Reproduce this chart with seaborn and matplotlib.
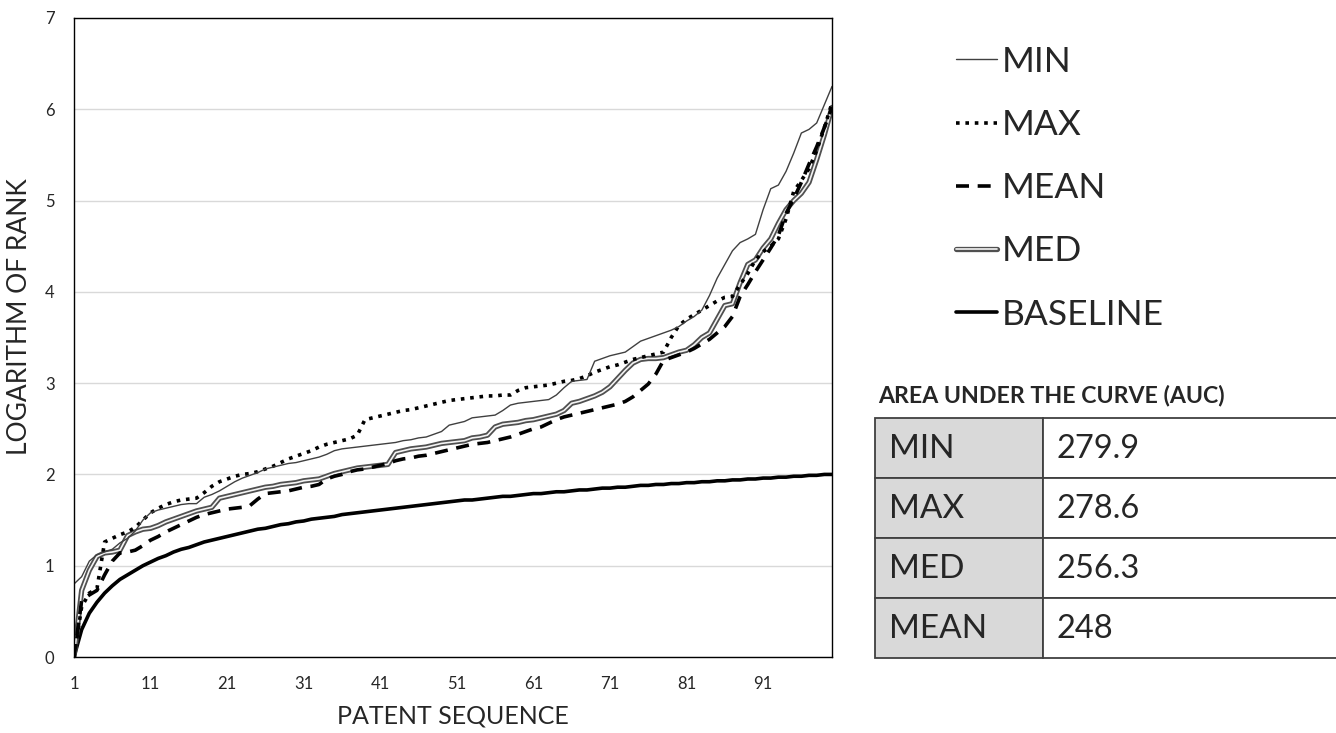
import numpy as np
import pandas as pd
import seaborn as sns
import matplotlib.pyplot as plt
import matplotlib.patheffects as pe
from matplotlib.patches import Rectangle

# Patent sequence 1..100
seq = list(range(1, 101))

# Logarithm of rank
min_vals = [0.80, 0.88, 1.05, 1.12, 1.15, 1.18, 1.25, 1.30, 1.38, 1.50,
            1.58, 1.61, 1.63, 1.65, 1.67, 1.68, 1.68, 1.75, 1.78, 1.82,
            1.87, 1.92, 1.96, 1.99, 2.02, 2.06, 2.08, 2.10, 2.12, 2.13,
            2.15, 2.17, 2.19, 2.22, 2.26, 2.28, 2.29, 2.30, 2.31, 2.32,
            2.33, 2.34, 2.35, 2.37, 2.38, 2.40, 2.41, 2.44, 2.47, 2.54,
            2.56, 2.58, 2.62, 2.63, 2.64, 2.65, 2.70, 2.76, 2.78, 2.79,
            2.80, 2.81, 2.82, 2.87, 2.95, 3.02, 3.03, 3.04, 3.24, 3.27,
            3.30, 3.32, 3.34, 3.40, 3.46, 3.49, 3.52, 3.55, 3.58, 3.62,
            3.68, 3.73, 3.80, 3.96, 4.15, 4.30, 4.45, 4.54, 4.58, 4.63,
            4.90, 5.13, 5.17, 5.32, 5.52, 5.74, 5.78, 5.85, 6.05, 6.25]

max_vals = [0.00, 0.55, 0.70, 0.75, 1.26, 1.30, 1.34, 1.37, 1.42, 1.50,
            1.58, 1.63, 1.67, 1.70, 1.72, 1.73, 1.74, 1.80, 1.87, 1.92,
            1.95, 1.98, 2.00, 2.01, 2.03, 2.06, 2.09, 2.13, 2.17, 2.20,
            2.23, 2.26, 2.30, 2.33, 2.35, 2.37, 2.39, 2.43, 2.60, 2.62,
            2.64, 2.66, 2.68, 2.70, 2.71, 2.73, 2.75, 2.77, 2.79, 2.81,
            2.82, 2.83, 2.84, 2.85, 2.86, 2.86, 2.87, 2.87, 2.92, 2.95,
            2.96, 2.97, 2.98, 3.00, 3.02, 3.03, 3.05, 3.08, 3.12, 3.15,
            3.18, 3.20, 3.23, 3.26, 3.28, 3.30, 3.32, 3.34, 3.50, 3.63,
            3.70, 3.75, 3.80, 3.85, 3.90, 3.94, 3.95, 4.08, 4.20, 4.35,
            4.44, 4.50, 4.58, 4.80, 5.10, 5.22, 5.35, 5.55, 5.80, 6.07]

mean_vals = [0.00, 0.62, 0.68, 0.73, 0.90, 1.05, 1.14, 1.15, 1.17, 1.22,
             1.28, 1.32, 1.37, 1.41, 1.45, 1.49, 1.53, 1.56, 1.58, 1.60,
             1.62, 1.63, 1.64, 1.66, 1.73, 1.79, 1.80, 1.81, 1.82, 1.84,
             1.86, 1.87, 1.89, 1.95, 1.98, 2.00, 2.03, 2.05, 2.06, 2.08,
             2.10, 2.12, 2.15, 2.17, 2.18, 2.20, 2.21, 2.23, 2.25, 2.27,
             2.29, 2.31, 2.33, 2.34, 2.35, 2.37, 2.39, 2.41, 2.44, 2.47,
             2.50, 2.52, 2.56, 2.60, 2.63, 2.65, 2.67, 2.69, 2.71, 2.73,
             2.75, 2.77, 2.80, 2.85, 2.92, 2.99, 3.10, 3.25, 3.28, 3.31,
             3.34, 3.38, 3.43, 3.48, 3.55, 3.62, 3.73, 3.95, 4.08, 4.22,
             4.35, 4.48, 4.62, 4.86, 5.02, 5.20, 5.40, 5.59, 5.80, 6.02]

med_vals = [0.00, 0.73, 0.95, 1.10, 1.14, 1.15, 1.17, 1.33, 1.37, 1.40,
            1.41, 1.44, 1.48, 1.51, 1.54, 1.57, 1.60, 1.62, 1.64, 1.74,
            1.76, 1.78, 1.80, 1.82, 1.84, 1.86, 1.87, 1.89, 1.90, 1.91,
            1.93, 1.94, 1.95, 1.98, 2.01, 2.03, 2.05, 2.07, 2.08, 2.09,
            2.10, 2.11, 2.24, 2.26, 2.28, 2.29, 2.30, 2.32, 2.34, 2.35,
            2.36, 2.37, 2.40, 2.41, 2.43, 2.52, 2.55, 2.56, 2.57, 2.59,
            2.60, 2.62, 2.64, 2.66, 2.70, 2.78, 2.80, 2.83, 2.86, 2.90,
            2.96, 3.05, 3.14, 3.22, 3.26, 3.27, 3.27, 3.28, 3.31, 3.34,
            3.36, 3.42, 3.50, 3.55, 3.70, 3.85, 3.87, 4.10, 4.30, 4.35,
            4.48, 4.58, 4.75, 4.90, 5.00, 5.08, 5.20, 5.45, 5.72, 6.02]

baseline_vals = [0.00, 0.30, 0.48, 0.60, 0.70, 0.78, 0.85, 0.90, 0.95, 1.00,
                 1.04, 1.08, 1.11, 1.15, 1.18, 1.20, 1.23, 1.26, 1.28, 1.30,
                 1.32, 1.34, 1.36, 1.38, 1.40, 1.41, 1.43, 1.45, 1.46, 1.48,
                 1.49, 1.51, 1.52, 1.53, 1.54, 1.56, 1.57, 1.58, 1.59, 1.60,
                 1.61, 1.62, 1.63, 1.64, 1.65, 1.66, 1.67, 1.68, 1.69, 1.70,
                 1.71, 1.72, 1.72, 1.73, 1.74, 1.75, 1.76, 1.76, 1.77, 1.78,
                 1.79, 1.79, 1.80, 1.81, 1.81, 1.82, 1.83, 1.83, 1.84, 1.85,
                 1.85, 1.86, 1.86, 1.87, 1.88, 1.88, 1.89, 1.89, 1.90, 1.90,
                 1.91, 1.91, 1.92, 1.92, 1.93, 1.93, 1.94, 1.94, 1.95, 1.95,
                 1.96, 1.96, 1.97, 1.97, 1.98, 1.98, 1.99, 1.99, 2.00, 2.00]

# AUC table
auc_names = ['MIN', 'MAX', 'MED', 'MEAN']
auc_values = ['279.9', '278.6', '256.3', '248']

x_ticks = [1, 11, 21, 31, 41, 51, 61, 71, 81, 91]

sns.set_style('white')
plt.rcParams['font.family'] = ['Lato', 'DejaVu Sans']

fig = plt.figure(figsize=(13.36, 7.33), dpi=100)
ax = fig.add_axes([74 / 1336, 76 / 733, 758 / 1336, 639 / 733])

df = pd.DataFrame({'seq': seq, 'MIN': min_vals, 'MAX': max_vals, 'MEAN': mean_vals,
                   'MED': med_vals, 'BASELINE': baseline_vals})

sns.lineplot(x='seq', y='BASELINE', data=df, ax=ax, color='black', linewidth=2.6, label='BASELINE')
sns.lineplot(x='seq', y='MED', data=df, ax=ax, color='#f4f4f4', linewidth=1.2, label='MED',
             path_effects=[pe.Stroke(linewidth=3.8, foreground='#505050'), pe.Normal()])
sns.lineplot(x='seq', y='MEAN', data=df, ax=ax, color='black', linewidth=2.6, label='MEAN')
ax.lines[-1].set_dashes((3.6, 2.4))
sns.lineplot(x='seq', y='MAX', data=df, ax=ax, color='black', linewidth=2.6, label='MAX')
ax.lines[-1].set_dashes((1, 1.6))
sns.lineplot(x='seq', y='MIN', data=df, ax=ax, color='#404040', linewidth=1.0, label='MIN')

ax.set_xlim(1, 100)
ax.set_ylim(0, 7)
ax.set_xticks(x_ticks)
ax.set_xticklabels([str(t) for t in x_ticks], fontsize=12)
ax.set_yticks(range(0, 8))
ax.set_yticklabels([str(t) for t in range(0, 8)], fontsize=12)
ax.tick_params(axis='both', length=0, pad=14)
ax.yaxis.grid(True, color='#d9d9d9', linewidth=1)
ax.xaxis.grid(False)
for s in ax.spines.values():
    s.set_color('black')
    s.set_linewidth(1.0)
ax.set_xlabel('PATENT SEQUENCE', fontsize=18, labelpad=9)
ax.set_ylabel('LOGARITHM OF RANK', fontsize=19)
ax.yaxis.set_label_coords(-0.056, 0.532)

# legend on the right, MIN first
handles, labels = ax.get_legend_handles_labels()
order = ['MIN', 'MAX', 'MEAN', 'MED', 'BASELINE']
hmap = dict(zip(labels, handles))
if ax.legend_:
    ax.legend_.remove()
fig.legend([hmap[k] for k in order], order, loc='upper left',
           bbox_to_anchor=(924 / 1336, 1 - 14 / 733), frameon=False,
           fontsize=25.5, handlelength=1.15, handletextpad=0.15, labelspacing=0.88)

# AUC table
fig.text(878 / 1336, 1 - 395 / 733, 'AREA UNDER THE CURVE (AUC)', fontsize=16.7,
         fontweight='bold', va='center', ha='left')
tab = fig.add_axes([0, 0, 1, 1], facecolor='none')
tab.set_xlim(0, 1336)
tab.set_ylim(733, 0)
tab.axis('off')
row_edges = [418, 478, 538, 598, 658]
for r, (name, val) in enumerate(zip(auc_names, auc_values)):
    y0, y1 = row_edges[r], row_edges[r + 1]
    tab.add_patch(Rectangle((875, y0), 1043 - 875, y1 - y0, facecolor='#d9d9d9',
                            edgecolor='#404040', linewidth=1.3))
    tab.add_patch(Rectangle((1043, y0), 1400 - 1043, y1 - y0, facecolor='white',
                            edgecolor='#404040', linewidth=1.3, clip_on=False))
    tab.text(889, (y0 + y1) / 2 + 1, name, fontsize=24, va='center', ha='left')
    tab.text(1056, (y0 + y1) / 2 + 1, val, fontsize=23.5, va='center', ha='left')

fig.savefig('out.png', dpi=100)
